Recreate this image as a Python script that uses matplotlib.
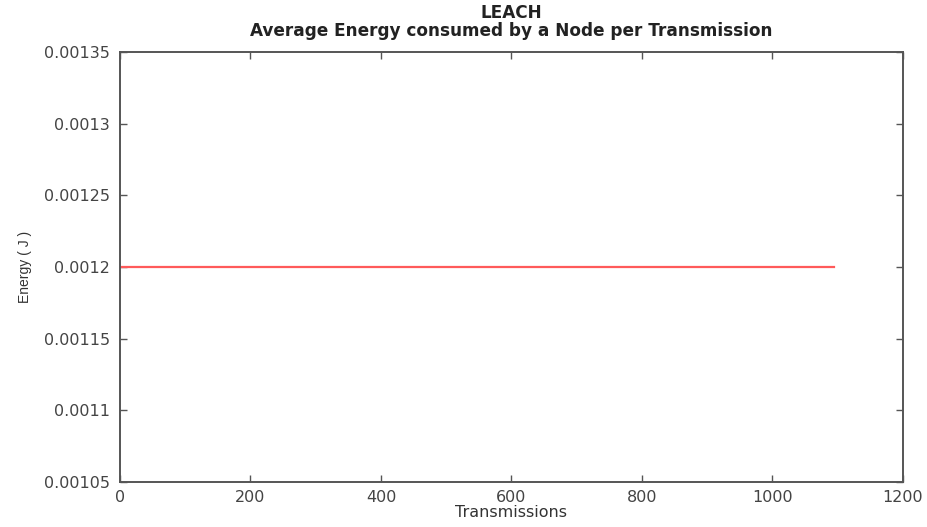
import matplotlib
matplotlib.use('Agg')
import matplotlib.pyplot as plt

plt.rcParams['font.family'] = ['DejaVu Sans']

# Data
transmissions = [0, 1095]
energy = [0.0012, 0.0012]
xticks = [0, 200, 400, 600, 800, 1000, 1200]
yticks = [0.00105, 0.0011, 0.00115, 0.0012, 0.00125, 0.0013, 0.00135]
ytick_labels = ['0.00105', '0.0011', '0.00115', '0.0012', '0.00125', '0.0013', '0.00135']

fig = plt.figure(figsize=(9.27, 5.27), dpi=100)
ax = fig.add_axes([0.1294, 0.086, 0.8447, 0.815])

ax.plot(transmissions, energy, color='#ff5a5a', lw=1.6)

ax.set_xlim(0, 1200)
ax.set_ylim(0.00105, 0.00135)
ax.set_xticks(xticks)
ax.set_yticks(yticks)
ax.set_yticklabels(ytick_labels)

grey = '#555555'
for s in ax.spines.values():
    s.set_color(grey)
    s.set_linewidth(1.4)
ax.tick_params(direction='in', top=True, right=True, length=5, width=1,
               color=grey, labelcolor='#444444', labelsize=11.5)
ax.tick_params(axis='y', pad=7)
ax.tick_params(axis='x', pad=6)

ax.set_xlabel('Transmissions', fontsize=11.5, color='#333333', labelpad=0)
ax.set_ylabel('Energy ( J )', fontsize=10, color='#333333', labelpad=9,
              family='Liberation Sans')
ax.set_title('LEACH\nAverage Energy consumed by a Node per Transmission',
             fontsize=12.2, fontweight='bold', color='#222222', pad=11.5,
             linespacing=1.0)

fig.savefig('out.png', dpi=100)
